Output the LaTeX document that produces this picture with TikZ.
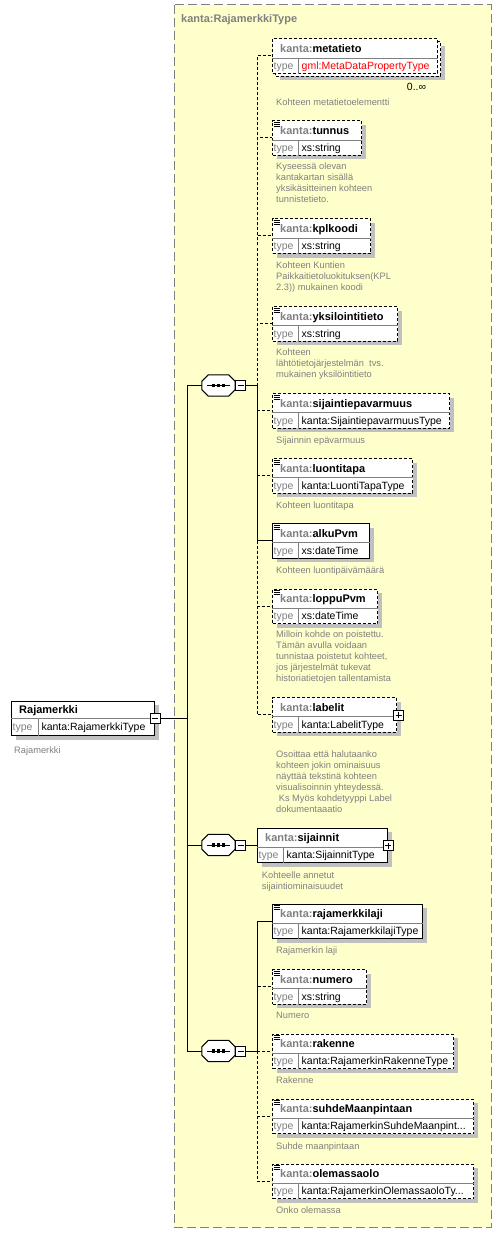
\documentclass[tikz,border=0pt]{standalone}
\usepackage{fontspec}
\setmainfont{Liberation Sans}
\usetikzlibrary{positioning,shadows}

\definecolor{kgray}{HTML}{808080}
\definecolor{shgray}{HTML}{C0C0C0}
\definecolor{typebg}{HTML}{FFFFCC}
\definecolor{kred}{HTML}{FF0000}

\tikzset{
  elembox/.style={draw, fill=white, line width=1pt, minimum height=34.5pt, inner sep=0pt, anchor=north west},
  boxshadow/.style={drop shadow={shadow xshift=4pt, shadow yshift=-4pt, fill=shgray, opacity=1}},
  optdash/.style={dash pattern=on 3pt off 2pt},
  optional/.style={elembox, boxshadow, optdash},
  mandatory/.style={elembox, boxshadow},
  divline/.style={draw=kgray, line width=0.8pt},
  namelbl/.style={anchor=base west, inner sep=0pt, font=\fontsize{11}{13}\selectfont\bfseries},
  typelbl/.style={anchor=base west, inner sep=0pt, text=kgray, font=\fontsize{10.5}{12}\selectfont},
  typeval/.style={anchor=base west, inner sep=0pt, font=\fontsize{10.5}{12}\selectfont},
  desc/.style={anchor=north west, inner sep=0pt, align=left, text=kgray, font=\fontsize{9.3}{11}\selectfont},
  seqnode/.style={rectangle, minimum width=33pt, minimum height=21pt, inner sep=0pt},
  minusbox/.style={draw, fill=white, line width=0.8pt, minimum size=10pt, inner sep=0pt,
    path picture={\draw[line width=0.8pt] ([xshift=2pt]path picture bounding box.west) -- ([xshift=-2pt]path picture bounding box.east);}},
  plusbox/.style={draw, fill=white, line width=0.8pt, minimum size=10pt, inner sep=0pt,
    path picture={\draw[line width=0.8pt] ([xshift=2pt]path picture bounding box.west) -- ([xshift=-2pt]path picture bounding box.east);
      \draw[line width=0.8pt] ([yshift=-2pt]path picture bounding box.north) -- ([yshift=2pt]path picture bounding box.south);}},
  link/.style={line width=1pt},
  optlink/.style={link, optdash},
}

% element box: id, style, x, top, width, name, type
\newcommand{\elem}[7]{%
  \node[#2, minimum width=#5pt] (#1) at (#3,#4) {};
  \draw[divline] ([yshift=-19.5pt]#1.north west) -- ([yshift=-19.5pt]#1.north east);
  \draw[divline] ([xshift=26pt,yshift=-19.5pt]#1.north west) -- ([xshift=26pt]#1.south west);
  \node[namelbl] (#1-name) at ([xshift=8pt,yshift=-14pt]#1.north west) {\textcolor{kgray}{kanta:}#6};
  \node[typelbl] (#1-tlbl) at ([xshift=1.5pt,yshift=-31pt]#1.north west) {type};
  \node[typeval] (#1-tval) at ([xshift=29.5pt,yshift=-31pt]#1.north west) {#7};
}
% documentation mark
\newcommand{\docicon}[1]{%
  \foreach \dy in {2,4,6}
    \draw[line width=0.7pt] ([xshift=1.5pt,yshift=-\dy pt]#1.north west) -- ++(6pt,0);
}
% sequence octagon with its mark
\newcommand{\seqshape}[1]{%
  \path[fill=shgray, shift={(3pt,-3pt)}] ([xshift=6.5pt]#1.north west) -- ([xshift=-6.5pt]#1.north east)
    -- ([yshift=-6.5pt]#1.north east) -- ([yshift=6.5pt]#1.south east) -- ([xshift=-6.5pt]#1.south east)
    -- ([xshift=6.5pt]#1.south west) -- ([yshift=6.5pt]#1.south west) -- ([yshift=-6.5pt]#1.north west) -- cycle;
  \draw[fill=white, line width=1pt] ([xshift=6.5pt]#1.north west) -- ([xshift=-6.5pt]#1.north east)
    -- ([yshift=-6.5pt]#1.north east) -- ([yshift=6.5pt]#1.south east) -- ([xshift=-6.5pt]#1.south east)
    -- ([xshift=6.5pt]#1.south west) -- ([yshift=6.5pt]#1.south west) -- ([yshift=-6.5pt]#1.north west) -- cycle;
  \draw[line width=1pt] ([xshift=-11.5pt]#1.center) -- ([xshift=11.5pt]#1.center);
  \foreach \dx in {-5,0,5}
    \fill ([xshift=\dx pt]#1.center) +(-1.6pt,-1.6pt) rectangle +(1.6pt,1.6pt);
}

\begin{document}
\begin{tikzpicture}[x=1pt,y=-1pt]

	\useasboundingbox (0,0) rectangle (501,1233);
	\fill[white] (0,0) rectangle (501,1233);

	% complex type
	\draw[fill=typebg, draw=kgray, line width=1pt, dash pattern=on 9pt off 4pt] (174,5) rectangle (491,1227);
	\node[anchor=base west, inner sep=0pt, text=kgray, font=\fontsize{11}{13}\selectfont\bfseries] (typetitle) at (181,23) {kanta:RajamerkkiType};

	% root element
	\node[mandatory, minimum width=143pt] (root) at (11,700.7) {};
	\draw[divline] ([yshift=-17.6pt]root.north west) -- ([yshift=-17.6pt]root.north east);
	\draw[divline] ([xshift=27pt,yshift=-17.6pt]root.north west) -- ([xshift=27pt]root.south west);
	\node[namelbl] (root-name) at ([xshift=8pt,yshift=-13pt]root.north west) {Rajamerkki};
	\node[typelbl] (root-tlbl) at ([xshift=1.5pt,yshift=-29.5pt]root.north west) {type};
	\node[typeval] (root-tval) at ([xshift=30.3pt,yshift=-29.5pt]root.north west) {kanta:RajamerkkiType};
	\node[minusbox] (root-minus) at ([yshift=-17.5pt]root.north east) {};
	\node[desc] (root-doc) at (14,746.3) {Rajamerkki};

	% sequences
	\node[seqnode] (seq1) at (218.5,385.5) {};
	\seqshape{seq1}
	\node[minusbox, right=0pt of seq1] (seq1-minus) {};
	\node[seqnode] (seq2) at (218.5,845) {};
	\seqshape{seq2}
	\node[minusbox, right=0pt of seq2] (seq2-minus) {};
	\node[seqnode] (seq3) at (218.5,1051) {};
	\seqshape{seq3}
	\node[minusbox, right=0pt of seq3] (seq3-minus) {};

	% first sequence
	\node[optional, minimum width=165pt] (metatieto-back) at (275,41.5) {};
	\elem{metatieto}{elembox, optdash}{272}{38.5}{165}{metatieto}{\textcolor{kred}{gml:MetaDataPropertyType}}
	\node[inner sep=0pt, font=\fontsize{10.5}{12}\selectfont] (metatieto-occ) at (416.5,87) {0..∞};
	\node[desc] (metatieto-doc) at (276,99) {Kohteen metatietoelementti};

	\elem{tunnus}{optional}{272}{120.5}{89}{tunnus}{xs:string}
	\docicon{tunnus}
	\node[desc] (tunnus-doc) at (276,163) {Kyseessä olevan\\kantakartan sisällä\\yksikäsitteinen kohteen\\tunnistetieto.};

	\elem{kplkoodi}{optional}{272}{218.5}{98}{kplkoodi}{xs:string}
	\docicon{kplkoodi}
	\node[desc] (kplkoodi-doc) at (276,262) {Kohteen Kuntien\\Paikkaitietoluokituksen(KPL\\2.3)) mukainen koodi};

	\elem{yksilointitieto}{optional}{272}{306}{125}{yksilointitieto}{xs:string}
	\docicon{yksilointitieto}
	\node[desc] (yksilointitieto-doc) at (276,349) {Kohteen\\lähtötietojärjestelmän\ \ tvs.\\mukainen yksilöintitieto};

	\elem{sijaintiepavarmuus}{optional}{272}{393}{177}{sijaintiepavarmuus}{kanta:SijaintiepavarmuusType}
	\docicon{sijaintiepavarmuus}
	\node[desc] (sijaintiepavarmuus-doc) at (276,436.3) {Sijainnin epävarmuus};

	\elem{luontitapa}{optional}{272}{458}{140}{luontitapa}{kanta:LuontiTapaType}
	\docicon{luontitapa}
	\node[desc] (luontitapa-doc) at (276,501.3) {Kohteen luontitapa};

	\elem{alkuPvm}{mandatory}{272}{523}{97}{alkuPvm}{xs:dateTime}
	\docicon{alkuPvm}
	\node[desc] (alkuPvm-doc) at (276,566.3) {Kohteen luontipäivämäärä};

	\elem{loppuPvm}{optional}{272}{588.5}{105}{loppuPvm}{xs:dateTime}
	\docicon{loppuPvm}
	\node[desc] (loppuPvm-doc) at (276,630.6) {Milloin kohde on poistettu.\\Tämän avulla voidaan\\tunnistaa poistetut kohteet,\\jos järjestelmät tukevat\\historiatietojen tallentamista};

	\elem{labelit}{optional}{272}{697}{124}{labelit}{kanta:LabelitType}
	\node[plusbox] (labelit-plus) at ([xshift=1.5pt,yshift=-18pt]labelit.north east) {};
	\node[desc] (labelit-doc) at (276,750.6) {Osoittaa että halutaanko\\kohteen jokin ominaisuus\\näyttää tekstinä kohteen\\visualisoinnin yhteydessä.\\\hspace*{2.6pt}Ks Myös kohdetyyppi Label\\dokumentaaatio};

	% second sequence
	\elem{sijainnit}{mandatory}{257}{827.5}{130}{sijainnit}{kanta:SijainnitType}
	\node[plusbox] (sijainnit-plus) at ([yshift=-18pt]sijainnit.north east) {};
	\node[desc] (sijainnit-doc) at (261.7,871.3) {Kohteelle annetut\\sijaintiominaisuudet};

	% third sequence
	\elem{rajamerkkilaji}{mandatory}{272}{903.5}{150}{rajamerkkilaji}{kanta:RajamerkkilajiType}
	\docicon{rajamerkkilaji}
	\node[desc] (rajamerkkilaji-doc) at (276,947) {Rajamerkin laji};

	\elem{numero}{optional}{272}{969}{94}{numero}{xs:string}
	\docicon{numero}
	\node[desc] (numero-doc) at (276,1012) {Numero};

	\elem{rakenne}{optional}{272}{1033.5}{181}{rakenne}{kanta:RajamerkinRakenneType}
	\docicon{rakenne}
	\node[desc] (rakenne-doc) at (276,1077) {Rakenne};

	\elem{suhdeMaanpintaan}{optional}{272}{1098.5}{201}{suhdeMaanpintaan}{kanta:RajamerkinSuhdeMaanpint...}
	\docicon{suhdeMaanpintaan}
	\node[desc] (suhdeMaanpintaan-doc) at (276,1142.3) {Suhde maanpintaan};

	\elem{olemassaolo}{optional}{272}{1163.5}{201}{olemassaolo}{kanta:RajamerkinOlemassaoloTy...}
	\docicon{olemassaolo}
	\node[desc] (olemassaolo-doc) at (276,1207) {Onko olemassa};

	% connectors
	\coordinate (trunk) at (187,718.2);
	\draw[link] (root-minus) -- (trunk);
	\draw[link] (trunk) |- (seq1);
	\draw[link] (trunk) |- (seq2);
	\draw[link] (trunk) |- (seq3);

	\coordinate (s1) at (257,385.5);
	\draw[link] (seq1-minus) -- (s1);
	\draw[link] (s1) |- ([yshift=-17.5pt]alkuPvm.north west);
	\draw[optlink] (s1) |- ([yshift=-17.5pt]metatieto.north west);
	\draw[optlink] (s1) |- ([yshift=-17.5pt]tunnus.north west);
	\draw[optlink] (s1) |- ([yshift=-17.5pt]kplkoodi.north west);
	\draw[optlink] (s1) |- ([yshift=-17.5pt]yksilointitieto.north west);
	\draw[optlink] (s1) |- ([yshift=-17.5pt]sijaintiepavarmuus.north west);
	\draw[optlink] (s1) |- ([yshift=-17.5pt]luontitapa.north west);
	\draw[optlink] (s1) |- ([yshift=-17.5pt]loppuPvm.north west);
	\draw[optlink] (s1) |- ([yshift=-17.5pt]labelit.north west);

	\draw[link] (seq2-minus) -- (seq2-minus.east -| sijainnit.west);

	\coordinate (s3) at (257,1051);
	\draw[link] (seq3-minus) -- (s3);
	\draw[link] (s3) |- ([yshift=-17.5pt]rajamerkkilaji.north west);
	\draw[optlink] (s3) |- ([yshift=-17.5pt]numero.north west);
	\draw[optlink] (s3) |- ([yshift=-17.5pt]rakenne.north west);
	\draw[optlink] (s3) |- ([yshift=-17.5pt]suhdeMaanpintaan.north west);
	\draw[optlink] (s3) |- ([yshift=-17.5pt]olemassaolo.north west);

\end{tikzpicture}
\end{document}
